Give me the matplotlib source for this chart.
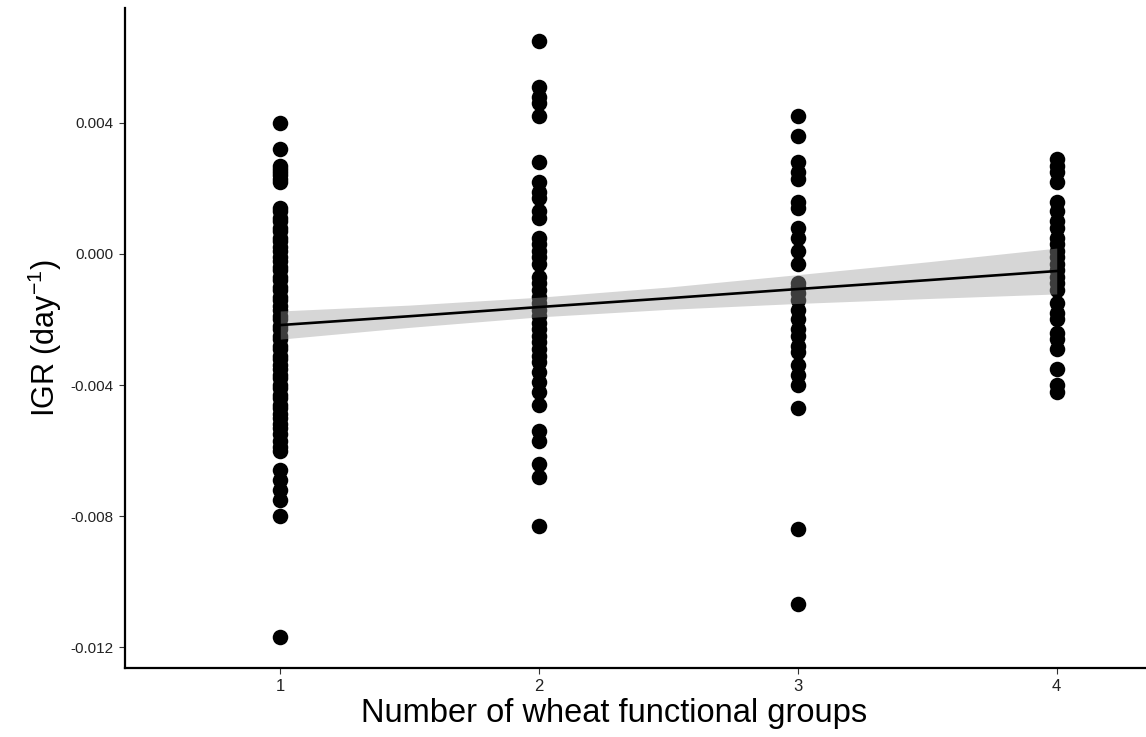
import matplotlib
matplotlib.use("Agg")
import matplotlib.pyplot as plt
import numpy as np

plt.rcParams['font.family'] = ['Liberation Sans', 'DejaVu Sans']
plt.rcParams['mathtext.default'] = 'regular'

# ---- data ----
groups = [1, 2, 3, 4]
igr_g1 = [0.0040, 0.0032, 0.0027, 0.0026, 0.0025, 0.0024, 0.0023, 0.0022,
          0.0014, 0.0013, 0.0011, 0.0010, 0.0008, 0.0007, 0.0005, 0.0004,
          0.0002, 0.0001, -0.0001, -0.0002, -0.0004, -0.0005, -0.0007,
          -0.0008, -0.0010, -0.0011, -0.0013, -0.0014, -0.0016, -0.0017,
          -0.0019, -0.0020, -0.0022, -0.0023, -0.0025, -0.0026, -0.0028,
          -0.0029, -0.0031, -0.0032, -0.0034, -0.0035, -0.0037, -0.0038,
          -0.0040, -0.0041, -0.0043, -0.0044, -0.0046, -0.0047, -0.0049,
          -0.0050, -0.0052, -0.0053, -0.0055, -0.0057, -0.0059, -0.0060,
          -0.0066, -0.0069, -0.0072, -0.0075, -0.0080, -0.0117]
igr_g2 = [0.0065, 0.0051, 0.0048, 0.0046, 0.0042, 0.0028, 0.0022, 0.0019,
          0.0017, 0.0013, 0.0011, 0.0005, 0.0003, 0.0001, -0.0001, -0.0003,
          -0.0007, -0.0009, -0.0011, -0.0013, -0.0015, -0.0017, -0.0019,
          -0.0021, -0.0023, -0.0025, -0.0027, -0.0029, -0.0031, -0.0033,
          -0.0036, -0.0039, -0.0042, -0.0046, -0.0054, -0.0057, -0.0064,
          -0.0068, -0.0083]
igr_g3 = [0.0042, 0.0036, 0.0028, 0.0025, 0.0023, 0.0016, 0.0014, 0.0008,
          0.0005, 0.0001, -0.0003, -0.0009, -0.0010, -0.0012, -0.0014,
          -0.0017, -0.0020, -0.0023, -0.0025, -0.0028, -0.0030, -0.0034,
          -0.0037, -0.0040, -0.0047, -0.0084, -0.0107]
igr_g4 = [0.0029, 0.0027, 0.0025, 0.0022, 0.0016, 0.0013, 0.0010, 0.0008,
          0.0005, 0.0003, 0.0001, -0.0001, -0.0003, -0.0005, -0.0007,
          -0.0009, -0.0011, -0.0015, -0.0018, -0.0020, -0.0024, -0.0026,
          -0.0029, -0.0035, -0.0040, -0.0042]

# fitted line and 95% band
fit_x = [1.0, 1.5, 2.0, 2.5, 3.0, 3.5, 4.0]
fit_y = [-0.00217, -0.00190, -0.00162, -0.00135, -0.00107, -0.00080, -0.00052]
fit_hw = [0.00043, 0.00034, 0.00030, 0.00034, 0.00044, 0.00056, 0.00070]

y_ticks = [0.004, 0.000, -0.004, -0.008, -0.012]

# ---- figure ----
fig = plt.figure(figsize=(11.46, 7.37), dpi=100)
ax = fig.add_axes([125/1146, 1 - 668/737, 1 - 125/1146, (668 - 8)/737])

all_groups = [igr_g1, igr_g2, igr_g3, igr_g4]
for g, vals in zip(groups, all_groups):
    ax.scatter([g] * len(vals), vals, s=125, color='black', linewidths=0, zorder=2)

fx = np.array(fit_x)
fy = np.array(fit_y)
hw = np.array(fit_hw)
ax.fill_between(fx, fy - hw, fy + hw, color='#999999', alpha=0.4, linewidth=0, zorder=3)
ax.plot(fx, fy, color='black', linewidth=1.9, zorder=4)

ax.set_xlim(0.40, 4.345)
ax.set_ylim(-0.01264, 0.00751)
ax.set_xticks(groups)
ax.set_xticklabels([str(g) for g in groups])
ax.set_yticks(y_ticks)
ax.set_yticklabels([f"{v:.3f}" for v in y_ticks])

for side in ['top', 'right']:
    ax.spines[side].set_visible(False)
for side in ['left', 'bottom']:
    ax.spines[side].set_linewidth(1.6)
    ax.spines[side].set_color('black')

ax.tick_params(axis='both', length=4, width=0.8, color='#333333',
               labelcolor='#222222', pad=4)
ax.tick_params(axis='y', labelsize=11)
ax.tick_params(axis='x', labelsize=12)

ax.set_xlabel('Number of wheat functional groups', fontsize=23.5)
ax.xaxis.set_label_coords((614 - 125) / (1146 - 125), -0.045, transform=ax.transAxes)
ax.xaxis.label.set_va('top')
ax.set_ylabel('IGR (day$^{-1}$)', fontsize=22, labelpad=5)

fig.savefig('out.png', dpi=100, facecolor='white')
